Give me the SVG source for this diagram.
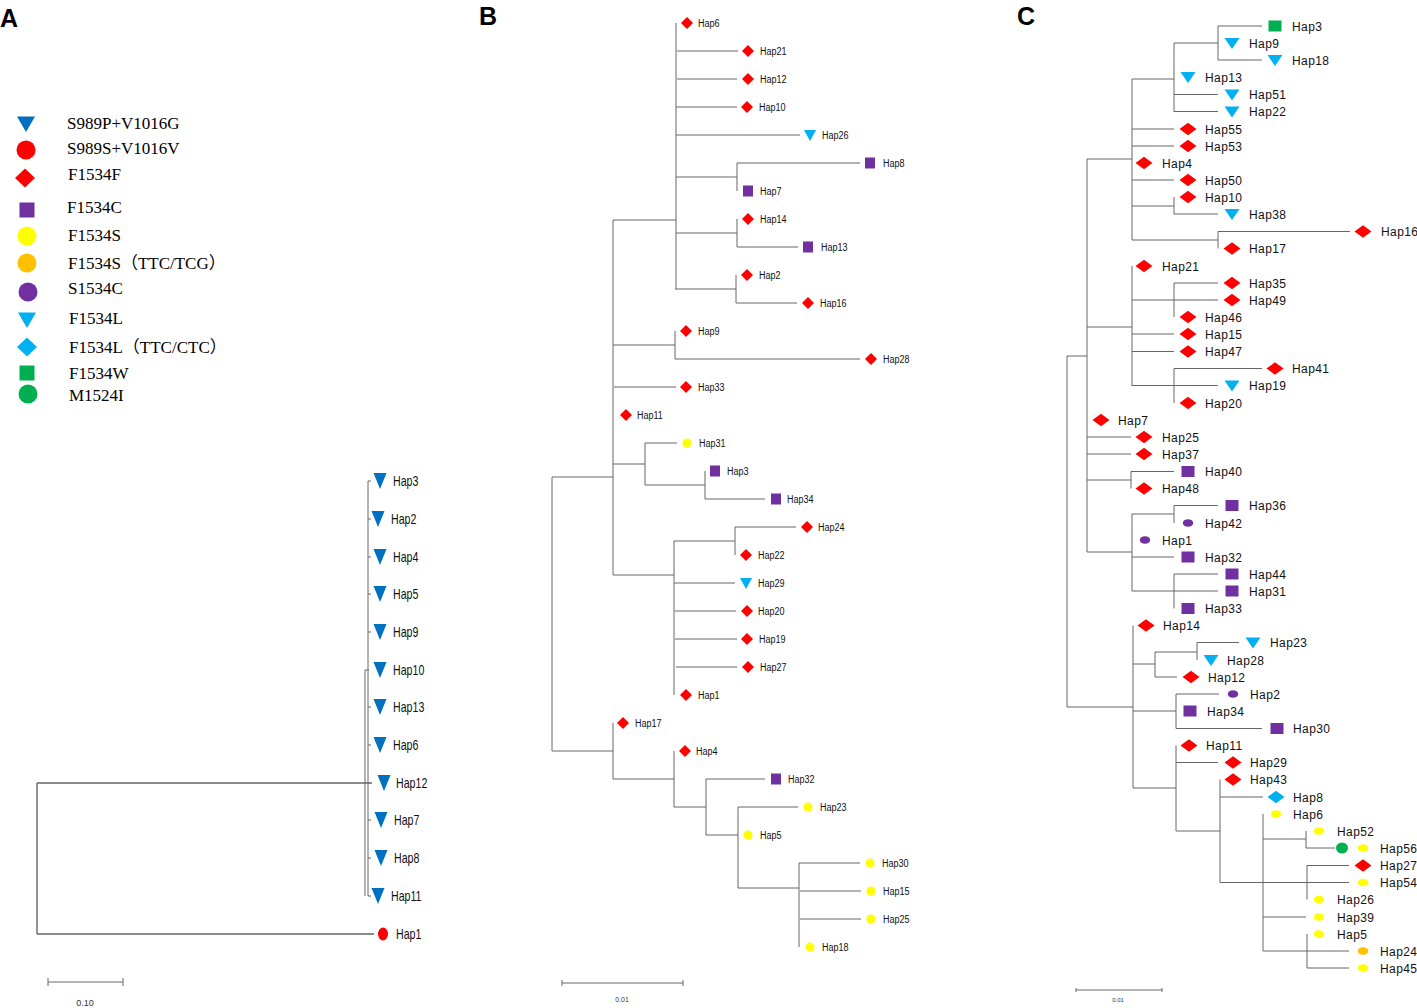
<svg xmlns="http://www.w3.org/2000/svg" xmlns:xlink="http://www.w3.org/1999/xlink" width="1417" height="1008" viewBox="0 0 1417 1008">
<style>
.lbl{font-family:"Liberation Sans",Arial,sans-serif;font-weight:bold;font-size:25px;fill:#000}
.leg{font-family:"Liberation Serif","Noto Sans CJK SC",serif;font-size:17px;fill:#000}
.tA{font-family:"Liberation Sans",Arial,sans-serif;font-size:14px;fill:#111}
.tB{font-family:"Liberation Sans",Arial,sans-serif;font-size:11px;fill:#111}
.tC{font-family:"Liberation Sans",Arial,sans-serif;font-size:12px;letter-spacing:0.4px;fill:#111}
.sc{font-family:"Liberation Sans",Arial,sans-serif;fill:#333}
.ln{fill:none;stroke:#666;stroke-width:1}
.lnA{fill:none;stroke:#666;stroke-width:1.4}
.db{fill:#0070c0}.rd{fill:#ff0000}.pu{fill:#7030a0}.ye{fill:#ffff00}.or{fill:#ffc000}.cy{fill:#00b0f0}.gr{fill:#00b050}
</style>
<defs>
<polygon id="triL" points="-9,-7.5 9,-7.5 0,8"/>
<circle id="cirL" r="9.5"/>
<polygon id="diaL" points="0,-9.5 10,0 0,9.5 -10,0"/>
<rect id="sqL" x="-7.5" y="-7.5" width="15" height="15"/>
<polygon id="triA" points="-6.5,-8 6.5,-8 0,8"/>
<ellipse id="cirA" rx="5" ry="6.5"/>
<polygon id="diaB" points="0,-6 6,0 0,6 -6,0"/>
<rect id="sqB" x="-5" y="-5.5" width="10" height="11"/>
<polygon id="triB" points="-6,-5 6,-5 0,6"/>
<circle id="cirB" r="4.6"/>
<polygon id="diaC" points="0,-6.2 8.5,0 0,6.2 -8.5,0"/>
<polygon id="triC" points="-7.5,-5 7.5,-5 0,6"/>
<rect id="sqC" x="-6.5" y="-5.5" width="13" height="11"/>
<ellipse id="ellC" rx="5.2" ry="3.8"/>
<ellipse id="grC" rx="6" ry="5.5"/>
</defs>

<rect width="1417" height="1008" fill="#fff"/>

<text class="lbl" x="0" y="27">A</text>
<text class="lbl" x="479" y="25">B</text>
<text class="lbl" x="1017" y="25">C</text>

<g id="legend">
<g id="leg1"><use href="#triL" x="26" y="124" class="db"/><text class="leg" x="67" y="129">S989P+V1016G</text></g>
<g id="leg2"><use href="#cirL" x="26" y="150" class="rd"/><text class="leg" x="67" y="154">S989S+V1016V</text></g>
<g id="leg3"><use href="#diaL" x="25" y="178" class="rd"/><text class="leg" x="68" y="180">F1534F</text></g>
<g id="leg4"><use href="#sqL" x="27" y="210" class="pu"/><text class="leg" x="67" y="213">F1534C</text></g>
<g id="leg5"><use href="#cirL" x="27" y="236" class="ye"/><text class="leg" x="68" y="241">F1534S</text></g>
<g id="leg6"><use href="#cirL" x="27" y="263" class="or"/><text class="leg" x="68" y="269">F1534S（TTC/TCG）</text></g>
<g id="leg7"><use href="#cirL" x="28" y="292" class="pu"/><text class="leg" x="68" y="294">S1534C</text></g>
<g id="leg8"><use href="#triL" x="27" y="320" class="cy"/><text class="leg" x="69" y="324">F1534L</text></g>
<g id="leg9"><use href="#diaL" x="27" y="347" class="cy"/><text class="leg" x="69" y="353">F1534L（TTC/CTC）</text></g>
<g id="leg10"><use href="#sqL" x="27" y="373" class="gr"/><text class="leg" x="69" y="379">F1534W</text></g>
<g id="leg11"><use href="#cirL" x="28" y="394" class="gr"/><text class="leg" x="69" y="401">M1524I</text></g>
</g>

<g id="connectors">
<path class="lnA" d="M37,783V934M37,783H372M37,934H374"/>
<path class="ln" d="M368,481V896M365,670V896M368,481H371M368,519H371M368,557H371M368,594H371M368,632H371M365,670H369M368,707H371M368,745H371M368,820H371M368,858H371M368,896H371"/>
<path class="ln" d="M48,982H123M48,978V986M123,978V986"/>

<path class="ln" d="M552,477V751M552,477H613M552,751H613
M613,220V575M613,220H676M676,23V289
M677,51H738M677,79H737M676,107H737M676,135H800
M676,177H737M737,163V191M737,163H860
M676,233H737M737,219V247M737,247H798
M675,289H736M736,275V303M736,303H797
M613,345H675M675,331V359M675,359H860
M614,387H676
M613,464H645M645,443V485M645,443H677M645,485H705M705,471V499M705,499H765
M613,575H674M674,541V695M674,541H735M735,527V555M735,527H796M674,583H735M675,611H736M675,639H737M676,667H737
M613,723V779M613,779H674M674,751V807M674,807H706M706,779V835M706,779H765M706,835H738M738,807V888M738,807H798M738,888H799M799,863V947M799,863H860M800,891H861M800,919H861"/>
<path class="ln" d="M562,983H683M562,980V986M683,980V986"/>

<path class="ln" d="M1067,356V707M1067,356H1087M1067,707H1133
M1087,159V552M1087,159H1132M1087,327H1132M1087,437H1131M1087,454H1131M1087,480H1131M1087,552H1132
M1132,79V240M1132,79H1174M1174,43V112M1174,43H1218M1218,26V60M1218,26H1262M1218,60H1262M1174,94.5H1218M1174,111.5H1218
M1132,129H1174M1132,146H1174M1132,180H1174M1132,206H1174M1174,197V214M1174,214H1218M1132,240H1218M1218,231.5V248.5M1218,231.5H1350
M1132,266V386M1132,300H1218M1174,283V317M1174,283H1218M1132,334H1174M1132,351.5H1174M1132,385.5H1218M1174,368.5V403M1174,368.5H1262
M1131,471.5V488.5M1131,471.5H1174
M1132,514V591M1132,514H1174M1174,505.5V523M1174,505.5H1218M1132,557H1174M1132,591H1218M1174,574V608.5M1174,574H1218
M1133,625.5V788M1133,664H1155M1155,652V677M1155,652H1197M1197,642.5V660M1197,642.5H1239M1155,677H1177
M1133,711H1176M1176,694V728.5M1176,694H1219M1176,728.5H1262
M1133,788H1176M1176,745.5V831M1176,762.5H1218M1176,831H1220M1220,779.5V882.5M1220,797H1263M1220,882.5H1349
M1263,814V951M1263,839H1306M1306,831V848M1306,848H1335M1307,865.5V899.5M1307,865.5H1349M1263,917H1306M1263,951H1349M1307,934V968M1307,968H1349"/>
<path class="ln" d="M1076,990H1162M1076,988V992M1162,988V992"/>
</g>
<text class="sc" x="85" y="1006" font-size="9" text-anchor="middle">0.10</text>
<text class="sc" x="622" y="1002" font-size="7" text-anchor="middle">0.01</text>
<text class="sc" x="1118" y="1002" font-size="6" text-anchor="middle">0.01</text>

<g id="treeA">
<g id="A-Hap3"><use href="#triA" x="380" y="481" class="db"/><text class="tA" transform="translate(393,486) scale(0.76,1)">Hap3</text></g>
<g id="A-Hap2"><use href="#triA" x="378" y="519" class="db"/><text class="tA" transform="translate(391,524) scale(0.76,1)">Hap2</text></g>
<g id="A-Hap4"><use href="#triA" x="380" y="557" class="db"/><text class="tA" transform="translate(393,562) scale(0.76,1)">Hap4</text></g>
<g id="A-Hap5"><use href="#triA" x="380" y="594" class="db"/><text class="tA" transform="translate(393,599) scale(0.76,1)">Hap5</text></g>
<g id="A-Hap9"><use href="#triA" x="380" y="632" class="db"/><text class="tA" transform="translate(393,637) scale(0.76,1)">Hap9</text></g>
<g id="A-Hap10"><use href="#triA" x="380" y="670" class="db"/><text class="tA" transform="translate(393,675) scale(0.76,1)">Hap10</text></g>
<g id="A-Hap13"><use href="#triA" x="380" y="707" class="db"/><text class="tA" transform="translate(393,712) scale(0.76,1)">Hap13</text></g>
<g id="A-Hap6"><use href="#triA" x="380" y="745" class="db"/><text class="tA" transform="translate(393,750) scale(0.76,1)">Hap6</text></g>
<g id="A-Hap12"><use href="#triA" x="384" y="783" class="db"/><text class="tA" transform="translate(396,788) scale(0.76,1)">Hap12</text></g>
<g id="A-Hap7"><use href="#triA" x="381" y="820" class="db"/><text class="tA" transform="translate(394,825) scale(0.76,1)">Hap7</text></g>
<g id="A-Hap8"><use href="#triA" x="381" y="858" class="db"/><text class="tA" transform="translate(394,863) scale(0.76,1)">Hap8</text></g>
<g id="A-Hap11"><use href="#triA" x="378" y="896" class="db"/><text class="tA" transform="translate(391,901) scale(0.76,1)">Hap11</text></g>
<g id="A-Hap1"><use href="#cirA" x="383" y="934" class="rd"/><text class="tA" transform="translate(396,939) scale(0.76,1)">Hap1</text></g>
</g>

<g id="treeB">
<g id="B-Hap6"><use href="#diaB" x="687" y="23" class="rd"/><text class="tB" transform="translate(698,27) scale(0.82,1)">Hap6</text></g>
<g id="B-Hap21"><use href="#diaB" x="748" y="51" class="rd"/><text class="tB" transform="translate(760,55) scale(0.82,1)">Hap21</text></g>
<g id="B-Hap12"><use href="#diaB" x="748" y="79" class="rd"/><text class="tB" transform="translate(760,83) scale(0.82,1)">Hap12</text></g>
<g id="B-Hap10"><use href="#diaB" x="747" y="107" class="rd"/><text class="tB" transform="translate(759,111) scale(0.82,1)">Hap10</text></g>
<g id="B-Hap26"><use href="#triB" x="810" y="135" class="cy"/><text class="tB" transform="translate(822,139) scale(0.82,1)">Hap26</text></g>
<g id="B-Hap8"><use href="#sqB" x="870" y="163" class="pu"/><text class="tB" transform="translate(883,167) scale(0.82,1)">Hap8</text></g>
<g id="B-Hap7"><use href="#sqB" x="748" y="191" class="pu"/><text class="tB" transform="translate(760,195) scale(0.82,1)">Hap7</text></g>
<g id="B-Hap14"><use href="#diaB" x="748" y="219" class="rd"/><text class="tB" transform="translate(760,223) scale(0.82,1)">Hap14</text></g>
<g id="B-Hap13"><use href="#sqB" x="808" y="247" class="pu"/><text class="tB" transform="translate(821,251) scale(0.82,1)">Hap13</text></g>
<g id="B-Hap2"><use href="#diaB" x="747" y="275" class="rd"/><text class="tB" transform="translate(759,279) scale(0.82,1)">Hap2</text></g>
<g id="B-Hap16"><use href="#diaB" x="808" y="303" class="rd"/><text class="tB" transform="translate(820,307) scale(0.82,1)">Hap16</text></g>
<g id="B-Hap9"><use href="#diaB" x="686" y="331" class="rd"/><text class="tB" transform="translate(698,335) scale(0.82,1)">Hap9</text></g>
<g id="B-Hap28"><use href="#diaB" x="871" y="359" class="rd"/><text class="tB" transform="translate(883,363) scale(0.82,1)">Hap28</text></g>
<g id="B-Hap33"><use href="#diaB" x="686" y="387" class="rd"/><text class="tB" transform="translate(698,391) scale(0.82,1)">Hap33</text></g>
<g id="B-Hap11"><use href="#diaB" x="626" y="415" class="rd"/><text class="tB" transform="translate(637,419) scale(0.82,1)">Hap11</text></g>
<g id="B-Hap31"><use href="#cirB" x="687" y="443" class="ye"/><text class="tB" transform="translate(699,447) scale(0.82,1)">Hap31</text></g>
<g id="B-Hap3"><use href="#sqB" x="715" y="471" class="pu"/><text class="tB" transform="translate(727,475) scale(0.82,1)">Hap3</text></g>
<g id="B-Hap34"><use href="#sqB" x="776" y="499" class="pu"/><text class="tB" transform="translate(787,503) scale(0.82,1)">Hap34</text></g>
<g id="B-Hap24"><use href="#diaB" x="807" y="527" class="rd"/><text class="tB" transform="translate(818,531) scale(0.82,1)">Hap24</text></g>
<g id="B-Hap22"><use href="#diaB" x="746" y="555" class="rd"/><text class="tB" transform="translate(758,559) scale(0.82,1)">Hap22</text></g>
<g id="B-Hap29"><use href="#triB" x="746" y="583" class="cy"/><text class="tB" transform="translate(758,587) scale(0.82,1)">Hap29</text></g>
<g id="B-Hap20"><use href="#diaB" x="747" y="611" class="rd"/><text class="tB" transform="translate(758,615) scale(0.82,1)">Hap20</text></g>
<g id="B-Hap19"><use href="#diaB" x="747" y="639" class="rd"/><text class="tB" transform="translate(759,643) scale(0.82,1)">Hap19</text></g>
<g id="B-Hap27"><use href="#diaB" x="748" y="667" class="rd"/><text class="tB" transform="translate(760,671) scale(0.82,1)">Hap27</text></g>
<g id="B-Hap1"><use href="#diaB" x="686" y="695" class="rd"/><text class="tB" transform="translate(698,699) scale(0.82,1)">Hap1</text></g>
<g id="B-Hap17"><use href="#diaB" x="623" y="723" class="rd"/><text class="tB" transform="translate(635,727) scale(0.82,1)">Hap17</text></g>
<g id="B-Hap4"><use href="#diaB" x="685" y="751" class="rd"/><text class="tB" transform="translate(696,755) scale(0.82,1)">Hap4</text></g>
<g id="B-Hap32"><use href="#sqB" x="776" y="779" class="pu"/><text class="tB" transform="translate(788,783) scale(0.82,1)">Hap32</text></g>
<g id="B-Hap23"><use href="#cirB" x="808" y="807" class="ye"/><text class="tB" transform="translate(820,811) scale(0.82,1)">Hap23</text></g>
<g id="B-Hap5"><use href="#cirB" x="748" y="835" class="ye"/><text class="tB" transform="translate(760,839) scale(0.82,1)">Hap5</text></g>
<g id="B-Hap30"><use href="#cirB" x="870" y="863" class="ye"/><text class="tB" transform="translate(882,867) scale(0.82,1)">Hap30</text></g>
<g id="B-Hap15"><use href="#cirB" x="871" y="891" class="ye"/><text class="tB" transform="translate(883,895) scale(0.82,1)">Hap15</text></g>
<g id="B-Hap25"><use href="#cirB" x="871" y="919" class="ye"/><text class="tB" transform="translate(883,923) scale(0.82,1)">Hap25</text></g>
<g id="B-Hap18"><use href="#cirB" x="810" y="947" class="ye"/><text class="tB" transform="translate(822,951) scale(0.82,1)">Hap18</text></g>
</g>

<g id="treeC">
<g id="C-Hap3"><use href="#sqC" x="1275" y="26" class="gr"/><text class="tC" x="1292" y="30.5">Hap3</text></g>
<g id="C-Hap9"><use href="#triC" x="1232" y="43" class="cy"/><text class="tC" x="1249" y="47.5">Hap9</text></g>
<g id="C-Hap18"><use href="#triC" x="1275" y="60" class="cy"/><text class="tC" x="1292" y="64.5">Hap18</text></g>
<g id="C-Hap13"><use href="#triC" x="1188" y="77" class="cy"/><text class="tC" x="1205" y="81.5">Hap13</text></g>
<g id="C-Hap51"><use href="#triC" x="1232" y="94.5" class="cy"/><text class="tC" x="1249" y="99">Hap51</text></g>
<g id="C-Hap22"><use href="#triC" x="1232" y="111.5" class="cy"/><text class="tC" x="1249" y="116">Hap22</text></g>
<g id="C-Hap55"><use href="#diaC" x="1188" y="129" class="rd"/><text class="tC" x="1205" y="133.5">Hap55</text></g>
<g id="C-Hap53"><use href="#diaC" x="1188" y="146" class="rd"/><text class="tC" x="1205" y="150.5">Hap53</text></g>
<g id="C-Hap4"><use href="#diaC" x="1144" y="163" class="rd"/><text class="tC" x="1162" y="167.5">Hap4</text></g>
<g id="C-Hap50"><use href="#diaC" x="1188" y="180" class="rd"/><text class="tC" x="1205" y="184.5">Hap50</text></g>
<g id="C-Hap10"><use href="#diaC" x="1188" y="197" class="rd"/><text class="tC" x="1205" y="201.5">Hap10</text></g>
<g id="C-Hap38"><use href="#triC" x="1232" y="214" class="cy"/><text class="tC" x="1249" y="218.5">Hap38</text></g>
<g id="C-Hap16"><use href="#diaC" x="1363" y="231.5" class="rd"/><text class="tC" x="1381" y="236">Hap16</text></g>
<g id="C-Hap17"><use href="#diaC" x="1232" y="248.5" class="rd"/><text class="tC" x="1249" y="253">Hap17</text></g>
<g id="C-Hap21"><use href="#diaC" x="1144" y="266" class="rd"/><text class="tC" x="1162" y="270.5">Hap21</text></g>
<g id="C-Hap35"><use href="#diaC" x="1232" y="283" class="rd"/><text class="tC" x="1249" y="287.5">Hap35</text></g>
<g id="C-Hap49"><use href="#diaC" x="1232" y="300" class="rd"/><text class="tC" x="1249" y="304.5">Hap49</text></g>
<g id="C-Hap46"><use href="#diaC" x="1188" y="317" class="rd"/><text class="tC" x="1205" y="321.5">Hap46</text></g>
<g id="C-Hap15"><use href="#diaC" x="1188" y="334" class="rd"/><text class="tC" x="1205" y="338.5">Hap15</text></g>
<g id="C-Hap47"><use href="#diaC" x="1188" y="351.5" class="rd"/><text class="tC" x="1205" y="356">Hap47</text></g>
<g id="C-Hap41"><use href="#diaC" x="1275" y="368.5" class="rd"/><text class="tC" x="1292" y="373">Hap41</text></g>
<g id="C-Hap19"><use href="#triC" x="1232" y="385.5" class="cy"/><text class="tC" x="1249" y="390">Hap19</text></g>
<g id="C-Hap20"><use href="#diaC" x="1188" y="403" class="rd"/><text class="tC" x="1205" y="407.5">Hap20</text></g>
<g id="C-Hap7"><use href="#diaC" x="1101" y="420" class="rd"/><text class="tC" x="1118" y="424.5">Hap7</text></g>
<g id="C-Hap25"><use href="#diaC" x="1144" y="437" class="rd"/><text class="tC" x="1162" y="441.5">Hap25</text></g>
<g id="C-Hap37"><use href="#diaC" x="1144" y="454" class="rd"/><text class="tC" x="1162" y="458.5">Hap37</text></g>
<g id="C-Hap40"><use href="#sqC" x="1188" y="471.5" class="pu"/><text class="tC" x="1205" y="476">Hap40</text></g>
<g id="C-Hap48"><use href="#diaC" x="1144" y="488.5" class="rd"/><text class="tC" x="1162" y="493">Hap48</text></g>
<g id="C-Hap36"><use href="#sqC" x="1232" y="505.5" class="pu"/><text class="tC" x="1249" y="510">Hap36</text></g>
<g id="C-Hap42"><use href="#ellC" x="1188" y="523" class="pu"/><text class="tC" x="1205" y="527.5">Hap42</text></g>
<g id="C-Hap1"><use href="#ellC" x="1145" y="540" class="pu"/><text class="tC" x="1162" y="544.5">Hap1</text></g>
<g id="C-Hap32"><use href="#sqC" x="1188" y="557" class="pu"/><text class="tC" x="1205" y="561.5">Hap32</text></g>
<g id="C-Hap44"><use href="#sqC" x="1232" y="574" class="pu"/><text class="tC" x="1249" y="578.5">Hap44</text></g>
<g id="C-Hap31"><use href="#sqC" x="1232" y="591" class="pu"/><text class="tC" x="1249" y="595.5">Hap31</text></g>
<g id="C-Hap33"><use href="#sqC" x="1188" y="608.5" class="pu"/><text class="tC" x="1205" y="613">Hap33</text></g>
<g id="C-Hap14"><use href="#diaC" x="1146" y="625.5" class="rd"/><text class="tC" x="1163" y="630">Hap14</text></g>
<g id="C-Hap23"><use href="#triC" x="1253" y="642.5" class="cy"/><text class="tC" x="1270" y="647">Hap23</text></g>
<g id="C-Hap28"><use href="#triC" x="1211" y="660" class="cy"/><text class="tC" x="1227" y="664.5">Hap28</text></g>
<g id="C-Hap12"><use href="#diaC" x="1191" y="677" class="rd"/><text class="tC" x="1208" y="681.5">Hap12</text></g>
<g id="C-Hap2"><use href="#ellC" x="1233" y="694" class="pu"/><text class="tC" x="1250" y="698.5">Hap2</text></g>
<g id="C-Hap34"><use href="#sqC" x="1190" y="711" class="pu"/><text class="tC" x="1207" y="715.5">Hap34</text></g>
<g id="C-Hap30"><use href="#sqC" x="1277" y="728.5" class="pu"/><text class="tC" x="1293" y="733">Hap30</text></g>
<g id="C-Hap11"><use href="#diaC" x="1189" y="745.5" class="rd"/><text class="tC" x="1206" y="750">Hap11</text></g>
<g id="C-Hap29"><use href="#diaC" x="1233" y="762.5" class="rd"/><text class="tC" x="1250" y="767">Hap29</text></g>
<g id="C-Hap43"><use href="#diaC" x="1233" y="779.5" class="rd"/><text class="tC" x="1250" y="784">Hap43</text></g>
<g id="C-Hap8"><use href="#diaC" x="1276" y="797" class="cy"/><text class="tC" x="1293" y="801.5">Hap8</text></g>
<g id="C-Hap6"><use href="#ellC" x="1276" y="814" class="ye"/><text class="tC" x="1293" y="818.5">Hap6</text></g>
<g id="C-Hap52"><use href="#ellC" x="1319" y="831" class="ye"/><text class="tC" x="1337" y="835.5">Hap52</text></g>
<g id="C-Hap56"><use href="#grC" x="1342" y="848" class="gr"/><use href="#ellC" x="1363" y="848" class="ye"/><text class="tC" x="1380" y="852.5">Hap56</text></g>
<g id="C-Hap27"><use href="#diaC" x="1363" y="865.5" class="rd"/><text class="tC" x="1380" y="870">Hap27</text></g>
<g id="C-Hap54"><use href="#ellC" x="1363" y="882.5" class="ye"/><text class="tC" x="1380" y="887">Hap54</text></g>
<g id="C-Hap26"><use href="#ellC" x="1319" y="899.5" class="ye"/><text class="tC" x="1337" y="904">Hap26</text></g>
<g id="C-Hap39"><use href="#ellC" x="1319" y="917" class="ye"/><text class="tC" x="1337" y="921.5">Hap39</text></g>
<g id="C-Hap5"><use href="#ellC" x="1319" y="934" class="ye"/><text class="tC" x="1337" y="938.5">Hap5</text></g>
<g id="C-Hap24"><use href="#ellC" x="1363" y="951" class="or"/><text class="tC" x="1380" y="955.5">Hap24</text></g>
<g id="C-Hap45"><use href="#ellC" x="1363" y="968" class="ye"/><text class="tC" x="1380" y="972.5">Hap45</text></g>
</g>
</svg>
